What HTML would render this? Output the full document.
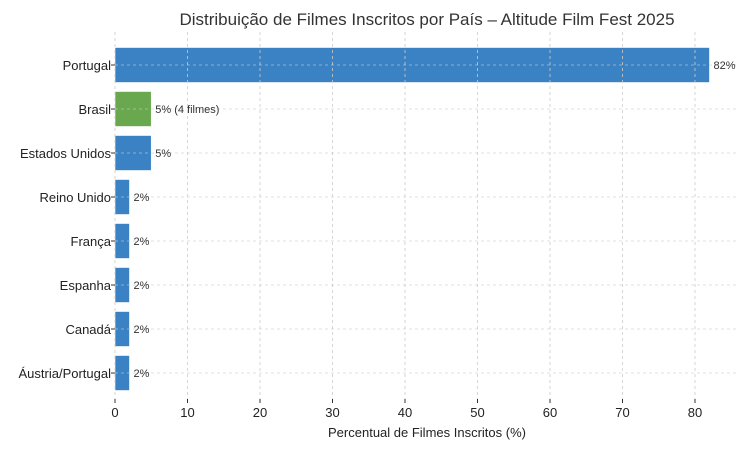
<!DOCTYPE html>
<html><head><meta charset="utf-8"><style>
body{margin:0;background:#fff}
svg{display:block;font-family:"Liberation Sans","DejaVu Sans",sans-serif}
</style></head><body>
<svg id="c" width="750" height="450">
<text x="427" y="25" font-size="17" text-anchor="middle" fill="#333">Distribuição de Filmes Inscritos por País – Altitude Film Fest 2025</text>
<text x="427" y="437" font-size="13" text-anchor="middle" fill="#222">Percentual de Filmes Inscritos (%)</text>
<g id="bars"></g><g id="grid"></g><g id="labels"></g>
</svg>
<script>
const categories=["Portugal","Brasil","Estados Unidos","Reino Unido","França","Espanha","Canadá","Áustria/Portugal"];
const values=[82,5,5,2,2,2,2,2];
const valueLabels=["82%","5% (4 filmes)","5%","2%","2%","2%","2%","2%"];
const highlight=[false,true,false,false,false,false,false,false];
const xTicks=[0,10,20,30,40,50,60,70,80];
const X0=115,XS=7.25,Y0=65,YS=44,BH=35,TOP=37,BOT=399,RIGHT=739;
const x=v=>X0+v*XS, y=i=>Y0+i*YS;
const NS="http://www.w3.org/2000/svg";
function mk(t,a,p){const e=document.createElementNS(NS,t);for(const k in a)e.setAttribute(k,a[k]);p.appendChild(e);return e;}
const B=document.getElementById('bars'),G=document.getElementById('grid'),L=document.getElementById('labels');
xTicks.forEach(t=>{
 const g=mk('line',{x1:x(t),x2:x(t),y1:TOP-5,y2:BOT,stroke:'#ccc','stroke-dasharray':'3,3','stroke-width':0.8},G);
 
 
 const tk=mk('line',{x1:x(t),x2:x(t),y1:BOT,y2:BOT+4,stroke:'#333'},L);
 
 
 const tl=mk('text',{x:x(t),y:BOT+18,'font-size':13,'text-anchor':'middle',fill:'#222'},L);
 tl.textContent=t;
 
 
});
categories.forEach((c,i)=>{
 const r=mk('rect',{x:X0,y:y(i)-BH/2,width:values[i]*XS,height:BH,fill:highlight[i]?'#6aa84f':'#3a82c4',stroke:'#fff','stroke-width':0.6},B);
 
 
 const g=mk('line',{x1:X0,x2:RIGHT,y1:y(i),y2:y(i),stroke:'#ccc','stroke-dasharray':'3,3','stroke-width':0.8,opacity:0.8},G);
 
 
 const tk=mk('line',{x1:X0-4,x2:X0,y1:y(i),y2:y(i),stroke:'#333'},L);
 
 
 const cl=mk('text',{x:X0-4,y:y(i)+5,'font-size':13,'text-anchor':'end',fill:'#222'},L);
 cl.textContent=c;
 
 
 const vl=mk('text',{x:x(values[i])+4,y:y(i)+4,'font-size':11,fill:'#333'},L);
 vl.textContent=valueLabels[i];
 
 
});
</script>
</body></html>
